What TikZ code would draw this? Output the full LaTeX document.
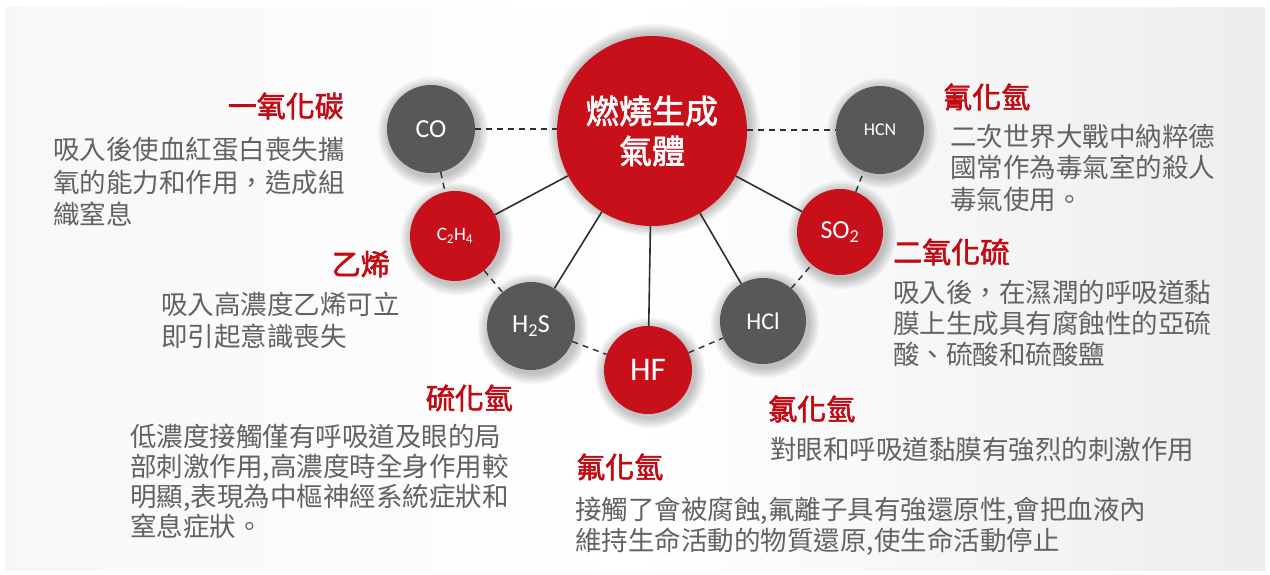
\documentclass[tikz,border=0pt]{standalone}
\usepackage{fontspec}
\newfontfamily\cjk[AutoFakeBold=2]{Noto Sans CJK TC}
\newfontfamily\latf{Carlito}
\definecolor{myred}{HTML}{C8101A}
\definecolor{titlered}{HTML}{C00A14}
\definecolor{circgray}{HTML}{58585A}
\definecolor{bodygray}{HTML}{626262}
\definecolor{linec}{HTML}{2E2E2E}
\begin{document}
\begin{tikzpicture}[x=1pt,y=-1pt,
  gas/.style={circle, inner sep=0pt, text=white, font=\latf},
  redc/.style={gas, fill=myred},
  grayc/.style={gas, fill=circgray},
  solidlink/.style={linec, line width=1.6pt},
  dashlink/.style={linec, line width=1.4pt, dash pattern=on 6pt off 5pt},
  head/.style={text=titlered, font=\cjk\bfseries\fontsize{29}{34}\selectfont, inner sep=0pt},
  body/.style={text=bodygray, font=\cjk\fontsize{26.5}{32}\selectfont, inner sep=0pt}]
\useasboundingbox (0,0) rectangle (1270,575);
\fill[white] (0,0) rectangle (1270,575);
\shade[left color=black!3, right color=black!7, middle color=white] (5,8) rectangle (1265,570);
% soft shadows
\foreach \cx/\cy/\r in {652/127/95, 431/129/44, 880/130/44, 455/236/45, 840/232/43, 531/326/44, 763/321/43, 648/370/44}{
  \foreach \k in {1,...,7}{
    \fill[black, opacity=0.035] (\cx+2,\cy+3) circle ({\r+\k*1.6});
  }
}
% circles
\node[redc, minimum size=190pt, font=\cjk\bfseries\fontsize{33}{40}\selectfont, align=center] (c) at (652,131) {燃燒生成\\氣體};
\node[grayc, minimum size=88pt, font=\latf\fontsize{26}{30}\selectfont] (co) at (431,129) {CO};
\node[grayc, minimum size=88pt, font=\latf\fontsize{18}{22}\selectfont] (hcn) at (880,130) {HCN};
\node[redc, minimum size=90pt, font=\latf\fontsize{19}{22}\selectfont] (c2h4) at (455,236) {C\textsubscript{2}H\textsubscript{4}};
\node[redc, minimum size=86pt, font=\latf\fontsize{26}{30}\selectfont] (so2) at (840,232) {SO\textsubscript{2}};
\node[grayc, minimum size=88pt, font=\latf\fontsize{26}{30}\selectfont] (h2s) at (531,326) {H\textsubscript{2}S};
\node[grayc, minimum size=86pt, font=\latf\fontsize{24}{28}\selectfont] (hcl) at (763,321) {HCl};
\node[redc, minimum size=88pt, font=\latf\fontsize{33}{36}\selectfont] (hf) at (648,370) {HF};
% connectors
\draw[solidlink] (c) -- (c2h4);
\draw[solidlink] (c) -- (h2s);
\draw[solidlink] (c) -- (hf);
\draw[solidlink] (c) -- (hcl);
\draw[solidlink] (c) -- (so2);
\draw[dashlink] (co) -- (co -| c.west);
\draw[dashlink] (c.east |- hcn) -- (hcn);
\draw[dashlink] (co) -- (c2h4);
\draw[dashlink] (c2h4) -- (h2s);
\draw[dashlink] (h2s) -- (hf);
\draw[dashlink] (hf) -- (hcl);
\draw[dashlink] (hcl) -- (so2);
\draw[dashlink] (so2) -- (hcn);
% texts: CO
\node[head, anchor=base east] (hco) at (344,117) {一氧化碳};
\node[body, anchor=base west] (bco1) at (53,160) {吸入後使血紅蛋白喪失攜};
\node[body, anchor=base west] (bco2) at (53,193) {氧的能力和作用，造成組};
\node[body, anchor=base west] (bco3) at (53,225) {織窒息};
% C2H4
\node[head, anchor=base east] (hc2h4) at (390,275) {乙烯};
\node[body, anchor=base west] (bc2h41) at (161,314) {吸入高濃度乙烯可立};
\node[body, anchor=base west] (bc2h42) at (161,346) {即引起意識喪失};
% H2S
\node[head, anchor=base east] (hh2s) at (513,409) {硫化氫};
\node[body, anchor=base west] (bh2s1) at (130,446) {低濃度接觸僅有呼吸道及眼的局};
\node[body, anchor=base west] (bh2s2) at (130,476) {部刺激作用,高濃度時全身作用較};
\node[body, anchor=base west] (bh2s3) at (130,506) {明顯,表現為中樞神經系統症狀和};
\node[body, anchor=base west] (bh2s4) at (130,536) {窒息症狀。};
% HCN
\node[head, anchor=base west] (hhcn) at (943,108) {氰化氫};
\node[body, anchor=base west] (bhcn1) at (950,147) {二次世界大戰中納粹德};
\node[body, anchor=base west] (bhcn2) at (950,178) {國常作為毒氣室的殺人};
\node[body, anchor=base west] (bhcn3) at (950,209) {毒氣使用。};
% SO2
\node[head, anchor=base west] (hso2) at (893,263) {二氧化硫};
\node[body, anchor=base west] (bso21) at (893,302) {吸入後，在濕潤的呼吸道黏};
\node[body, anchor=base west] (bso22) at (893,333) {膜上生成具有腐蝕性的亞硫};
\node[body, anchor=base west] (bso23) at (893,364) {酸、硫酸和硫酸鹽};
% HCl
\node[head, anchor=base west] (hhcl) at (768,420) {氯化氫};
\node[body, anchor=base west] (bhcl1) at (770,459) {對眼和呼吸道黏膜有強烈的刺激作用};
% HF
\node[head, anchor=base west] (hhf) at (576,478) {氟化氫};
\node[body, anchor=base west] (bhf1) at (575,519) {接觸了會被腐蝕,氟離子具有強還原性,會把血液內};
\node[body, anchor=base west] (bhf2) at (575,550) {維持生命活動的物質還原,使生命活動停止};
\end{tikzpicture}
\end{document}
